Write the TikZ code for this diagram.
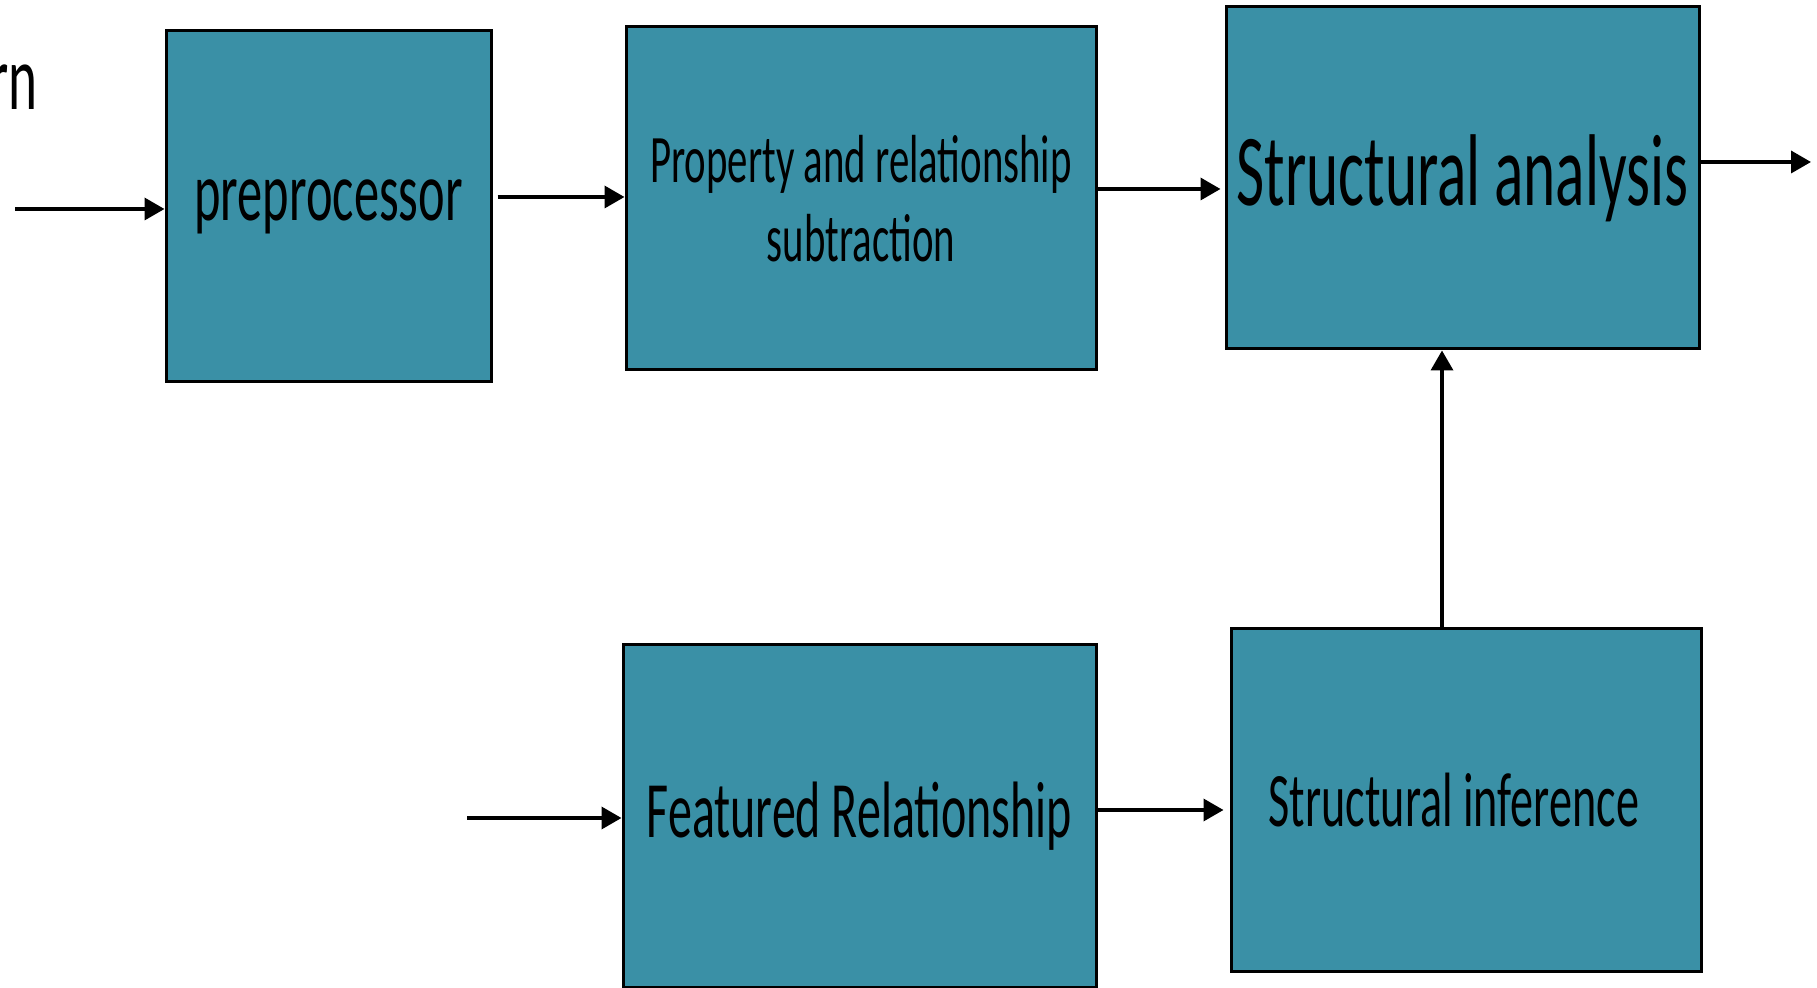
\documentclass[tikz,border=0pt]{standalone}
\usepackage{fontspec}
\setmainfont{Carlito}[FakeStretch=0.6]
\usetikzlibrary{arrows.meta}
\definecolor{boxteal}{RGB}{58,144,166}
\begin{document}
\begin{tikzpicture}[x=0.5pt,y=-0.5pt,
  blk/.style={draw=black, line width=1.5pt, fill=boxteal, rectangle, inner sep=0pt, align=center, text=black},
  arr/.style={-{Triangle[length=10pt,width=11pt]}, line width=1.8pt}]
\useasboundingbox (0,0) rectangle (1817,988);
\fill[white] (0,0) rectangle (1817,988);

\node[anchor=base east, inner sep=0pt, font=\fontsize{46}{55}\selectfont] (pat) at (38,110) {rn};

\node[blk, minimum width=162.5pt, minimum height=175.5pt, font=\fontsize{42}{50}\selectfont] (pre) at (328.5,206.5) {\raisebox{-6pt}{preprocessor}};
\node[blk, minimum width=235pt, minimum height=171.5pt, font=\fontsize{34}{39.5}\selectfont] (prop) at (861,198.5) {Property and relationship\\subtraction};
\node[blk, minimum width=236.5pt, minimum height=171pt, font=\fontsize{51}{60}\selectfont] (ana) at (1462.5,178) {\raisebox{-3pt}{Structural analysis}};
\node[blk, minimum width=236.5pt, minimum height=171pt, font=\fontsize{40}{48}\selectfont] (feat) at (859.5,816) {Featured Relationship};
\node[blk, minimum width=235pt, minimum height=171pt, font=\fontsize{38.5}{46}\selectfont] (inf) at (1466,800) {Structural inference\hspace{12pt}};

\coordinate (in1) at (15,209);
\coordinate (in4) at (467,818);
\coordinate (out) at (1811,162);

\draw[arr] (in1) -- (in1 -| pre.west);
\draw[arr] ([xshift=2.5pt]pre.east |- 0,197) -- (prop.west |- 0,197);
\draw[arr] (prop.east |- 0,189) -- ([xshift=-2pt]ana.west |- 0,189);
\draw[arr] (ana.east |- out) -- (out);
\draw[arr] (in4) -- (in4 -| feat.west);
\draw[arr] (feat.east |- 0,810) -- ([xshift=-3pt]inf.west |- 0,810);
\draw[arr] (inf.north -| 1442,0) -- (ana.south -| 1442,0);
\end{tikzpicture}
\end{document}
